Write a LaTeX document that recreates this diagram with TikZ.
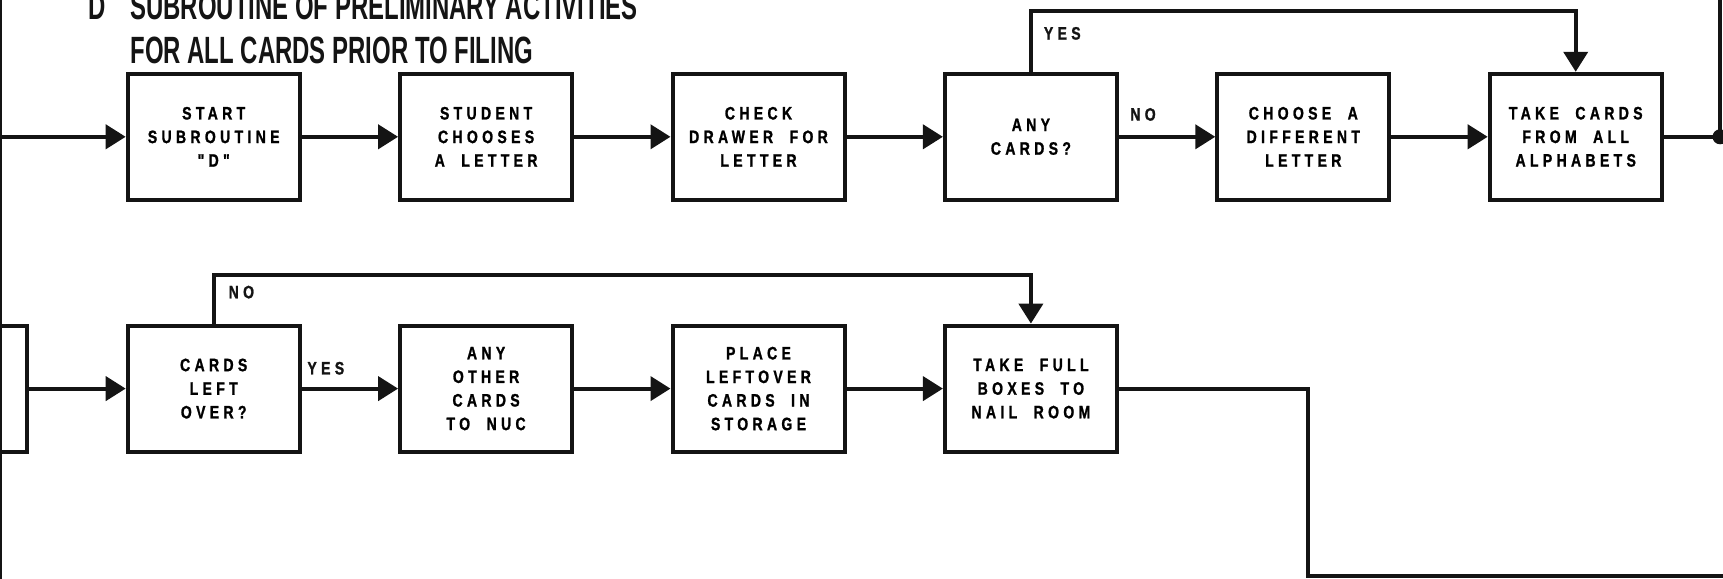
\documentclass[tikz,border=0pt]{standalone}
\usepackage{fontspec}
\usepackage{xcolor}
\usetikzlibrary{arrows.meta,positioning}
\newfontfamily\boxfont[LetterSpace=24,FakeStretch=0.78,WordSpace=2,FakeBold=1.2]{Liberation Sans}
\newfontfamily\headfont[FakeStretch=0.63]{Liberation Sans}
\definecolor{inkblack}{HTML}{141414}
\tikzset{
  activity/.style={rectangle,draw=inkblack,line width=2pt,align=center,minimum width=86pt,minimum height=63pt,inner sep=1pt,font=\boxfont\bfseries\fontsize{9}{11.8}\selectfont},
  edge/.style={-{Triangle[length=10pt,width=12pt]},line width=2pt,draw=inkblack},
  line/.style={line width=2pt,draw=inkblack},
  lbl/.style={font=\boxfont\bfseries\fontsize{9}{11.8}\selectfont,text=inkblack,inner sep=1pt},
  heading/.style={font=\headfont\bfseries\fontsize{19}{22}\selectfont,text=inkblack,inner sep=0pt}
}
\begin{document}
\begin{tikzpicture}[x=0.5pt,y=-0.5pt,node distance=60.9pt and 48.2pt]
\clip (0,0) rectangle (1723,578);
% heading
\node[heading,anchor=base west] (head1) at (130,19) {SUBROUTINE OF PRELIMINARY ACTIVITIES};
\node[heading,anchor=base west] (head2) at (130,63) {FOR ALL CARDS PRIOR TO FILING};
\node[heading,anchor=base east] (dtag) at ([xshift=-12pt]head1.base west) {D};
% page connectors
\coordinate (ltop) at (1.2,-5);
\coordinate (lbot) at (1.2,590);
\coordinate (rtop) at (1720,-10);
\coordinate (yesrow) at (0,11);
\coordinate (norow) at (0,274.7);
\coordinate (drop) at (1308,576);
\coordinate (exit) at (1740,576);
% row one
\node[activity] (start) at (213.7,136.8) {START\\SUBROUTINE\\"D"};
\node[activity,right=of start] (pick) {STUDENT\\CHOOSES\\A LETTER};
\node[activity,right=of pick] (check) {CHECK\\DRAWER FOR\\LETTER};
\node[activity,right=of check] (any) {ANY\\CARDS?};
\node[activity,right=of any] (other) {CHOOSE A\\DIFFERENT\\LETTER};
\node[activity,right=of other] (take) {TAKE CARDS\\FROM ALL\\ALPHABETS};
% row two
\node[activity,below=of start] (left) {CARDS\\LEFT\\OVER?};
\node[activity,left=of left] (prev) {};
\node[activity,below=of pick] (nuc) {ANY\\OTHER\\CARDS\\TO NUC};
\node[activity,below=of check] (store) {PLACE\\LEFTOVER\\CARDS IN\\STORAGE};
\node[activity,below=of any] (mail) {TAKE FULL\\BOXES TO\\NAIL ROOM};
% connectors
\draw[inkblack,line width=0.8pt] (ltop) -- (lbot);
\draw[edge] (ltop |- start) -- (start);
\draw[edge] (start) -- (pick);
\draw[edge] (pick) -- (check);
\draw[edge] (check) -- (any);
\draw[edge] (any) -- node[lbl,above=6pt,near start]{NO} (other);
\draw[edge] (other) -- (take);
\draw[edge] (any.north) -- (any |- yesrow) node[lbl,anchor=north west,xshift=4.5pt,yshift=-6pt]{YES} -| (take.north);
\draw[line] (take) -- (rtop |- take) -- (rtop);
\fill[inkblack] (rtop |- take) circle[radius=3.75pt];
\draw[edge] (prev) -- (left);
\draw[edge] (left) -- node[lbl,above=5pt,near start]{YES} (nuc);
\draw[edge] (nuc) -- (store);
\draw[edge] (store) -- (mail);
\draw[edge] (left.north) -- (left |- norow) node[lbl,anchor=north west,xshift=5.5pt,yshift=-3.5pt]{NO} -| (mail.north);
\draw[line] (mail) -| (drop) -- (exit);
\end{tikzpicture}
\end{document}
